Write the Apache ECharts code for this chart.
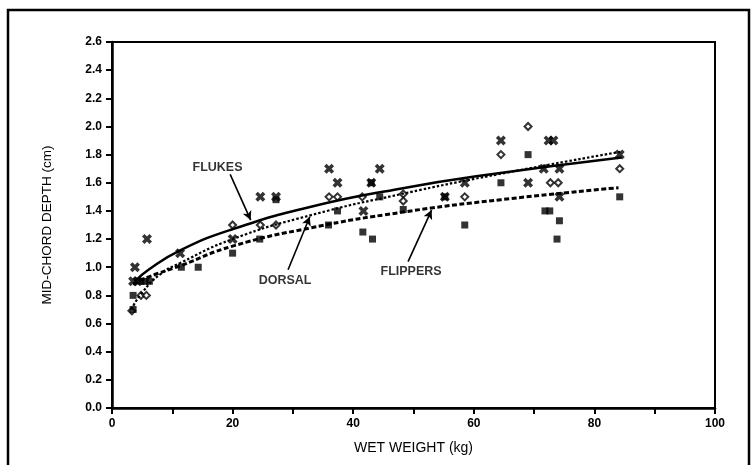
<!DOCTYPE html>
<html>
<head>
<meta charset="utf-8">
<script src="https://cdn.jsdelivr.net/npm/echarts@6/dist/echarts.min.js"></script>
<style>
html,body{margin:0;padding:0;background:#fff;}
#c{width:751px;height:465px;}
</style>
</head>
<body>
<div id="c"></div>
<script>
// Flukes (X markers)
const flukesX = [3.5,4.2,3.8,5.8,11.3,20,24.6,27.2,36,37.4,41.7,43,44.4,55.2,58.5,64.5,69,71.6,72.4,73.2,74.2,74.2,84.2];
const flukesY = [0.9,0.9,1.0,1.2,1.1,1.2,1.5,1.5,1.7,1.6,1.4,1.6,1.7,1.5,1.6,1.9,1.6,1.7,1.9,1.9,1.7,1.5,1.8];
// Dorsal (open diamonds)
const dorsalX = [3.3,4.8,5.7,20,24.6,27.2,36,37.4,41.5,48.3,48.3,58.5,64.5,69,72.7,74,84.2];
const dorsalY = [0.69,0.8,0.8,1.3,1.3,1.3,1.5,1.5,1.5,1.52,1.47,1.5,1.8,2.0,1.6,1.6,1.7];
// Flippers (filled squares)
const flippersX = [3.5,3.5,4.8,5.5,6.2,11.5,14.3,20,24.5,27.2,35.9,37.4,41.6,43.2,43,44.4,48.3,55.2,58.5,64.5,69,71.8,72.6,74.2,73.8,84.2];
const flippersY = [0.8,0.7,0.9,0.9,0.9,1.0,1.0,1.1,1.2,1.48,1.3,1.4,1.25,1.2,1.6,1.5,1.41,1.5,1.3,1.6,1.8,1.4,1.4,1.33,1.2,1.5];

// Fitted curves
const flukesCurveX = [3.8,6,11.3,20,33,48,61,84.5];
const flukesCurveY = [0.90,0.98,1.12,1.27,1.43,1.56,1.65,1.78];
const dorsalCurveX = [3.2,5,8,11.3,20,33,48,64,84.3];
const dorsalCurveY = [0.70,0.82,0.95,1.03,1.20,1.37,1.52,1.66,1.82];
const flippersCurveX = [3.5,6,11.3,20,33,48,64.5,84];
const flippersCurveY = [0.88,0.93,1.01,1.15,1.28,1.39,1.48,1.565];

// Annotation labels and arrows
const labelNames = ['FLUKES','DORSAL','FLIPPERS'];
const labelX = [17.5,28.7,49.6];
const labelY = [1.705,0.903,0.97];
const arrowFromX = [19.6,29.2,49.1];
const arrowFromY = [1.66,0.982,1.04];
const arrowToX = [23.0,32.8,53.0];
const arrowToY = [1.335,1.359,1.406];

const xTicks = [0,20,40,60,80,100];

const zip = (a,b) => a.map((v,i)=>[v,b[i]]);
const FONT = 'Liberation Sans, Arial, Helvetica, sans-serif';
const crossPath = 'path://M0,2.5 L2.5,0 L5,2.5 L7.5,0 L10,2.5 L7.5,5 L10,7.5 L7.5,10 L5,7.5 L2.5,10 L0,7.5 L2.5,5 Z';

const chart = echarts.init(document.getElementById('c'), null, {renderer:'canvas'});
chart.setOption({
  backgroundColor:'#fff',
  animation:false,
  grid:{left:112,right:36,top:42,bottom:57,show:true,borderColor:'#000',borderWidth:2,backgroundColor:'transparent'},
  xAxis:{
    type:'value',min:0,max:100,interval:10,
    axisLine:{lineStyle:{color:'#000',width:2.5}},
    axisTick:{show:true,length:6,lineStyle:{color:'#000',width:2}},
    splitLine:{show:false},
    axisLabel:{formatter:v=> xTicks.indexOf(v)>=0 ? String(v) : '',color:'#000',fontWeight:'bold',fontSize:12,margin:10,fontFamily:FONT},
    name:'WET WEIGHT (kg)',nameLocation:'middle',nameGap:33,
    nameTextStyle:{color:'#000',fontSize:14,fontFamily:FONT}
  },
  yAxis:{
    type:'value',min:0,max:2.6,interval:0.2,
    axisLine:{lineStyle:{color:'#000',width:2.5}},
    axisTick:{show:true,length:6,lineStyle:{color:'#000',width:2}},
    splitLine:{show:false},
    axisLabel:{formatter:v=>v.toFixed(1),color:'#000',fontWeight:'bold',fontSize:12,margin:10,fontFamily:FONT},
    name:'MID-CHORD DEPTH (cm)',nameLocation:'middle',nameGap:58,nameRotate:90,
    nameTextStyle:{color:'#000',fontSize:13.5,fontFamily:FONT}
  },
  graphic:[{type:'rect',shape:{x:8,y:10,width:741,height:470},style:{fill:'none',stroke:'#000',lineWidth:2.5},silent:true}],
  series:[
    {type:'scatter',name:'Flukes',data:zip(flukesX,flukesY),symbol:crossPath,symbolSize:10,itemStyle:{color:'#000'},z:3},
    {type:'scatter',name:'Dorsal',data:zip(dorsalX,dorsalY),symbol:'diamond',symbolSize:7,itemStyle:{color:'#fff',borderColor:'#000',borderWidth:2},z:3},
    {type:'scatter',name:'Flippers',data:zip(flippersX,flippersY),symbol:'rect',symbolSize:7,itemStyle:{color:'#000'},z:3},
    {type:'line',name:'Flukes fit',data:zip(flukesCurveX,flukesCurveY),smooth:true,showSymbol:false,lineStyle:{color:'#000',width:2.5,type:'solid'},z:4,
      markLine:{silent:true,symbol:['none','arrow'],symbolSize:[7,9],label:{show:false},
        lineStyle:{color:'#000',width:1.6,type:'solid'},
        data:arrowFromX.map((v,i)=>[{coord:[v,arrowFromY[i]]},{coord:[arrowToX[i],arrowToY[i]]}])}},
    {type:'line',name:'Dorsal fit',data:zip(dorsalCurveX,dorsalCurveY),smooth:true,showSymbol:false,lineStyle:{color:'#000',width:2.2,type:[2.5,2]},z:4},
    {type:'line',name:'Flippers fit',data:zip(flippersCurveX,flippersCurveY),smooth:true,showSymbol:false,lineStyle:{color:'#000',width:3,type:[5,2.5]},z:4},
    {type:'scatter',name:'labels',data:labelNames.map((n,i)=>[labelX[i],labelY[i],n]),symbolSize:0,silent:true,
      label:{show:true,position:'inside',formatter:p=>p.data[2],color:'#000',fontWeight:'bold',fontSize:12.5,fontFamily:FONT},z:5}
  ]
});
</script>
</body>
</html>
